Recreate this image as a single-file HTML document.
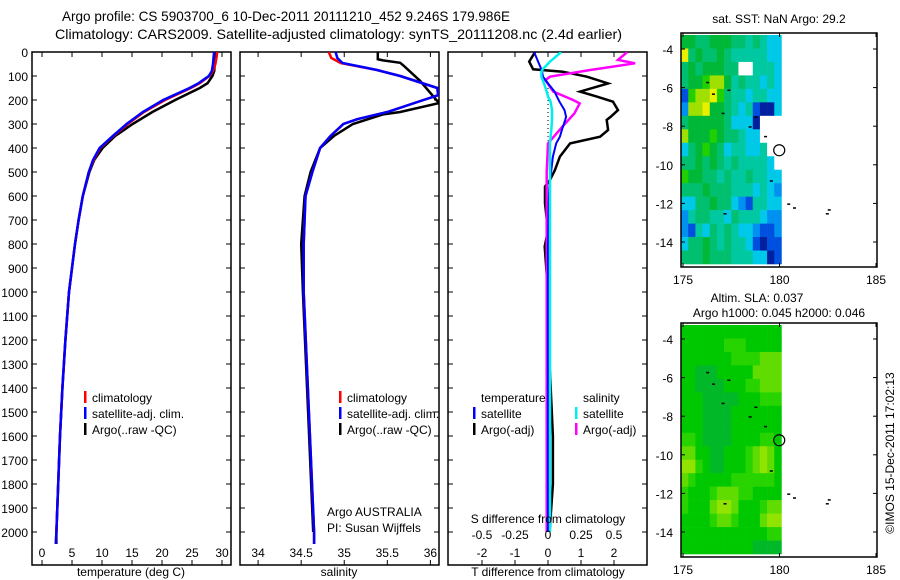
<!DOCTYPE html>
<html><head><meta charset="utf-8"><style>
body{margin:0;background:#fff}
svg{display:block;font-family:"Liberation Sans",sans-serif}
text{fill:#000}
</style></head><body>
<svg id="c" width="900" height="580" viewBox="0 0 900 580" xmlns="http://www.w3.org/2000/svg">
<text x="62" y="21" font-size="14" textLength="448" lengthAdjust="spacingAndGlyphs">Argo profile: CS 5903700_6 10-Dec-2011 20111210_452 9.246S 179.986E</text>
<text x="55" y="39" font-size="14" textLength="567" lengthAdjust="spacingAndGlyphs">Climatology: CARS2009. Satellite-adjusted climatology: synTS_20111208.nc (2.4d earlier)</text>
<g id="g"></g>
</svg>
<script>
// ---- data ----
const tempDepth=[0,20,50,80,100,130,150,200,250,300,350,400,450,500,600,700,800,900,1000,1200,1400,1600,1800,2000,2050];
const tempClim=[29.2,29.1,28.9,28.5,27.9,26.3,24.8,20.5,17.0,14.3,11.9,9.7,8.6,7.8,6.8,6.1,5.5,5.0,4.5,3.9,3.4,3.0,2.7,2.4,2.3];
const tempSat=[28.7,28.6,28.5,28.3,27.8,26.1,24.6,20.2,16.8,14.1,11.8,9.6,8.5,7.8,6.8,6.1,5.5,5.0,4.5,3.9,3.4,3.0,2.7,2.4,2.3];
const tempArgo=[29.0,28.9,28.8,28.7,28.4,27.6,26.3,22.2,18.4,15.1,12.2,10.1,8.7,7.9,6.8,6.1,5.5,5.0,4.5,3.9,3.4,3.0,2.7,2.4,2.4];
const salDepth=[0,25,46,75,100,150,180,200,250,280,300,350,400,500,600,800,1000,1500,2000,2050];
const salClim=[34.82,34.85,34.96,35.38,35.65,36.08,36.09,35.92,35.5,35.15,34.99,34.84,34.72,34.63,34.55,34.53,34.53,34.59,34.65,34.65];
const salSat=[34.9,34.92,34.98,35.38,35.65,36.08,36.09,35.92,35.5,35.15,34.99,34.84,34.72,34.63,34.55,34.53,34.53,34.59,34.65,34.65];
const salArgoDepth=[0,30,35,45,60,120,213,250,260,300,350,400,500,600,800,1000,1500,2000];
const salArgo=[35.39,35.39,35.45,35.65,35.7,35.88,36.1,35.65,35.45,35.1,34.88,34.72,34.61,34.54,34.5,34.52,34.58,34.64];
const dDepth=[0,40,72,82,103,131,165,186,207,242,270,283,325,353,381,436,492,533,561,631,742,811,1000,1300,1600,1800,2000];
const tDiffSat=[-0.42,-0.3,-0.2,-0.18,-0.15,0.0,0.2,0.27,0.35,0.5,0.55,0.52,0.42,0.36,0.25,0.15,0.1,0.06,0.04,0.02,0.01,0.0,0.0,0.0,0.0,0.0,0.0];
const tDiffArgo=[-0.39,-0.57,-0.45,0.45,1.18,1.82,0.97,1.48,1.97,2.12,1.9,1.78,1.82,1.58,0.67,0.36,0.21,0.06,-0.09,-0.09,0.0,-0.1,0.0,0.05,0.15,0.15,0.05];
const sDiffSat=[0.1,0.015,-0.04,-0.05,-0.05,-0.03,-0.01,0.0,0.02,0.03,0.03,0.03,0.025,0.02,0.015,0.015,0.015,0.015,0.015,0.015,0.015,0.015,0.015,0.015,0.015,0.015,0.015];
const sDiffArgoDepth=[0,33,47,75,103,117,165,200,214,256,311,381,500,1000,1500,2000];
const sDiffArgo=[0.6,0.53,0.66,0.32,0.015,-0.02,0.04,0.19,0.24,0.2,0.11,0.0,-0.01,-0.01,-0.01,-0.01];
const depthTicks=[0,100,200,300,400,500,600,700,800,900,1000,1100,1200,1300,1400,1500,1600,1700,1800,1900,2000];
const tempTicks=[0,5,10,15,20,25,30];
const salTicks=[34,34.5,35,35.5,36];
const tDiffTicks=[-2,-1,0,1,2];
const sDiffTicks=[-0.5,-0.25,0,0.25,0.5];
const sDiffTickLabels=["-0.5","-0.25","0","0.25","0.5"];
const latTicks=[-4,-6,-8,-10,-12,-14];
const lonTicks=[175,180,185];
const sstGrid=["66556665545433","95655654444433","56566655ww4443","56678864544343","17889754434433","28896654341003","56666653330www","86667655433www","356765344334ww","5565654544443w","76655454454433","55565554443432","33556553214433","24554435444322","21435454332112","35565454431011","55565554443301"];
const slaGrid=["11111111111111","11111122211111","11111112222333","11000111113333","11000011122333","11100000111222","11100001111111","11100001111111","22100001111221","33110011123431","44210011123431","32111112222221","21112333221111","21113443111233","11112332111344","11111111111122","11111111110000"];
const islandLon=[176.2,176.5,177.3,177.0,178.4,178.7,179.2,179.5,177.1,180.4,180.7,182.5,182.4];
const islandLat=[-5.7,-6.3,-6.1,-7.3,-8.0,-7.5,-8.5,-10.8,-12.5,-12.0,-12.2,-12.3,-12.5];
const argoLon=179.986, argoLat=-9.246;

const NS="http://www.w3.org/2000/svg";
const G=document.getElementById('g');
function mk(tag,attrs,parent){const e=document.createElementNS(NS,tag);for(const k in attrs)e.setAttribute(k,attrs[k]);(parent||G).appendChild(e);return e;}
function txt(x,y,s,size,anchor,name){const t=mk('text',{x:x,y:y,'font-size':size||12,'text-anchor':anchor||'start'});t.textContent=s;


return t;}

const Y0=52, Y1=565, D0=0, D1=(565-52)/0.24;
function yD(d){return Y0+(d-D0)/(D1-D0)*(Y1-Y0);}
function panel(x0,x1,v0,v1,id){
  const sx=v=>x0+(v-v0)/(v1-v0)*(x1-x0);
  const cp=mk('clipPath',{id:'cp'+id});mk('rect',{x:x0,y:Y0,width:x1-x0,height:Y1-Y0},cp);
  const r=mk('rect',{x:x0,y:Y0,width:x1-x0,height:Y1-Y0,fill:'none',stroke:'#000','stroke-width':1.5});
  
  
  depthTicks.forEach(d=>{const y=yD(d);
    mk('line',{x1:x0,x2:x0+5,y1:y,y2:y,stroke:'#000'});mk('line',{x1:x1-5,x2:x1,y1:y,y2:y,stroke:'#000'});});
  return sx;
}
function line(sx,depths,vals,color,w,id,name){
  let d='';vals.forEach((v,i)=>{d+=(i?'L':'M')+sx(v).toFixed(1)+','+yD(depths[i]).toFixed(1);});
  const p=mk('path',{d:d,fill:'none',stroke:color,'stroke-width':w||2.5,'clip-path':'url(#cp'+id+')'});
  
  
}
function xticks(sx,ticks,labels,y){ticks.forEach((t,i)=>{const x=sx(t);
  mk('line',{x1:x,x2:x,y1:Y0,y2:Y0+5,stroke:'#000'});mk('line',{x1:x,x2:x,y1:Y1-5,y2:Y1,stroke:'#000'});
  txt(x,y,labels?labels[i]:String(t),12,'middle','x-tick-label');});}

depthTicks.forEach(d=>txt(28,yD(d)+5,String(d),12,'end','y-tick-label'));

// panel 1 temperature
const sT=panel(32,231,-1.67,31.5,'t');
line(sT,tempDepth,tempArgo,'#000',2.5,'t','argo-temp-line');
line(sT,tempDepth,tempClim,'#f00',2.5,'t','clim-temp-line');
line(sT,tempDepth,tempSat,'#00f',2.5,'t','sat-temp-line');
xticks(sT,tempTicks,null,557);
txt(131,576,'temperature (deg C)',12,'middle','x-axis-title-temperature');

// panel 2 salinity
const sS=panel(240,439,33.79,36.1,'s');
line(sS,salArgoDepth,salArgo,'#000',2.5,'s','argo-sal-line');
line(sS,salDepth,salClim,'#f00',2.5,'s','clim-sal-line');
line(sS,salDepth,salSat,'#00f',2.5,'s','sat-sal-line');
xticks(sS,salTicks,null,557);
txt(339,576,'salinity',12,'middle','x-axis-title-salinity');
txt(327,516,'Argo AUSTRALIA',12,'start','institution-label');
txt(327,532,'PI: Susan Wijffels',12,'start','pi-label');

// panel 3 differences
const sD=panel(448,647,-3.03,3.0,'d');
const sDs=v=>sD(v*4);
mk('line',{x1:sD(0),x2:sD(0),y1:yD(150),y2:yD(370),stroke:'#000','stroke-dasharray':'1,3'});
line(sD,dDepth,tDiffArgo,'#000',2.5,'d','argo-tdiff-line');
line(sDs,sDiffArgoDepth,sDiffArgo,'#f0f',2.5,'d','argo-sdiff-line');
line(sD,dDepth,tDiffSat,'#00f',2,'d','sat-tdiff-line');
line(sDs,dDepth,sDiffSat,'#0ee',2.5,'d','sat-sdiff-line');
xticks(sD,tDiffTicks,null,557);
sDiffTicks.forEach((t,i)=>txt(sDs(t),539,sDiffTickLabels[i],12,'middle','s-tick-label'));
txt(548,523,'S difference from climatology',12,'middle','s-axis-title');
txt(548,576,'T difference from climatology',12,'middle','x-axis-title-tdiff');

// legends
function leg(x,y,c,s){const r=mk('rect',{x:x,y:y-11,width:2.5,height:12,fill:c});
  
  
  txt(x+8,y,s,12,'start','legend-entry');}
[[0,'#f00','climatology'],[1,'#00f','satellite-adj. clim.'],[2,'#000','Argo(..raw -QC)']].forEach(a=>{leg(84,402+a[0]*16,a[1],a[2]);leg(339,402+a[0]*16,a[1],a[2]);});
txt(481,402,'temperature',12,'start','legend-header-temperature');
txt(583,402,'salinity',12,'start','legend-header-salinity');
leg(473,418,'#00f','satellite');leg(473,434,'#000','Argo(-adj)');
leg(575,418,'#0ee','satellite');leg(575,434,'#f0f','Argo(-adj)');

// maps
const sstCol={'0':'#0020a0','1':'#0050e0','2':'#0090f0','3':'#00c8e8','4':'#00c8a0','5':'#00c070','6':'#00b838','7':'#20d000','8':'#a0e000','9':'#e8f000','w':'#ffffff'};
const slaCol={'0':'#00b828','1':'#00c800','2':'#28d400','3':'#60dc00','4':'#90e400','5':'#b0ec00'};
function map(top,grid,cols,name){
  const L=681,R=877,B=top+234;
  const sx=lon=>683+(lon-175)*19.3, sy=lat=>top+16+(-4-lat)*19.3;
  const rows=grid.length,nc=grid[0].length;
  const gx0=sx(174.9),gx1=sx(180.1),gy0=top+2,gy1=top+231;
  const cw=(gx1-gx0)/nc,ch=(gy1-gy0)/rows;
  grid.forEach((row,r)=>{[...row].forEach((c,i)=>{const e=mk('rect',{x:(gx0+i*cw).toFixed(2),y:(gy0+r*ch).toFixed(2),width:(cw+0.3).toFixed(2),height:(ch+0.3).toFixed(2),fill:cols[c]});
    
    });});
  islandLon.forEach((lo,i)=>mk('rect',{x:sx(lo),y:sy(islandLat[i]),width:3,height:1.5,fill:'#000'}));
  const c=mk('circle',{cx:sx(argoLon),cy:sy(argoLat),r:5.5,fill:'none',stroke:'#000','stroke-width':1.2});
  
  
  const f=mk('rect',{x:L,y:top,width:R-L,height:B-top,fill:'none',stroke:'#000','stroke-width':1.5});
  
  
  latTicks.forEach(la=>{const y=sy(la);mk('line',{x1:L,x2:L+4,y1:y,y2:y,stroke:'#000'});mk('line',{x1:R-4,x2:R,y1:y,y2:y,stroke:'#000'});txt(673,y+5,String(la),12,'end','lat-tick-label');});
  lonTicks.forEach(lo=>{const x=sx(lo);mk('line',{x1:x,x2:x,y1:top,y2:top+4,stroke:'#000'});mk('line',{x1:x,x2:x,y1:B-4,y2:B,stroke:'#000'});txt(x,B+17,String(lo),12,'middle','lon-tick-label');});
}
map(33,sstGrid,sstCol,'sst-map');
map(323,slaGrid,slaCol,'sla-map');
txt(779,23,'sat. SST: NaN Argo: 29.2',12,'middle','sst-map-title');
txt(757,302,'Altim. SLA: 0.037',12,'middle','sla-map-title');
txt(779,317,'Argo h1000: 0.045 h2000: 0.046',12,'middle','sla-map-subtitle');
const cr=txt(0,0,'©IMOS 15-Dec-2011 17:02:13',12,'middle','copyright-timestamp');
cr.setAttribute('transform','translate(894,453) rotate(-90)');
</script>
</body></html>
